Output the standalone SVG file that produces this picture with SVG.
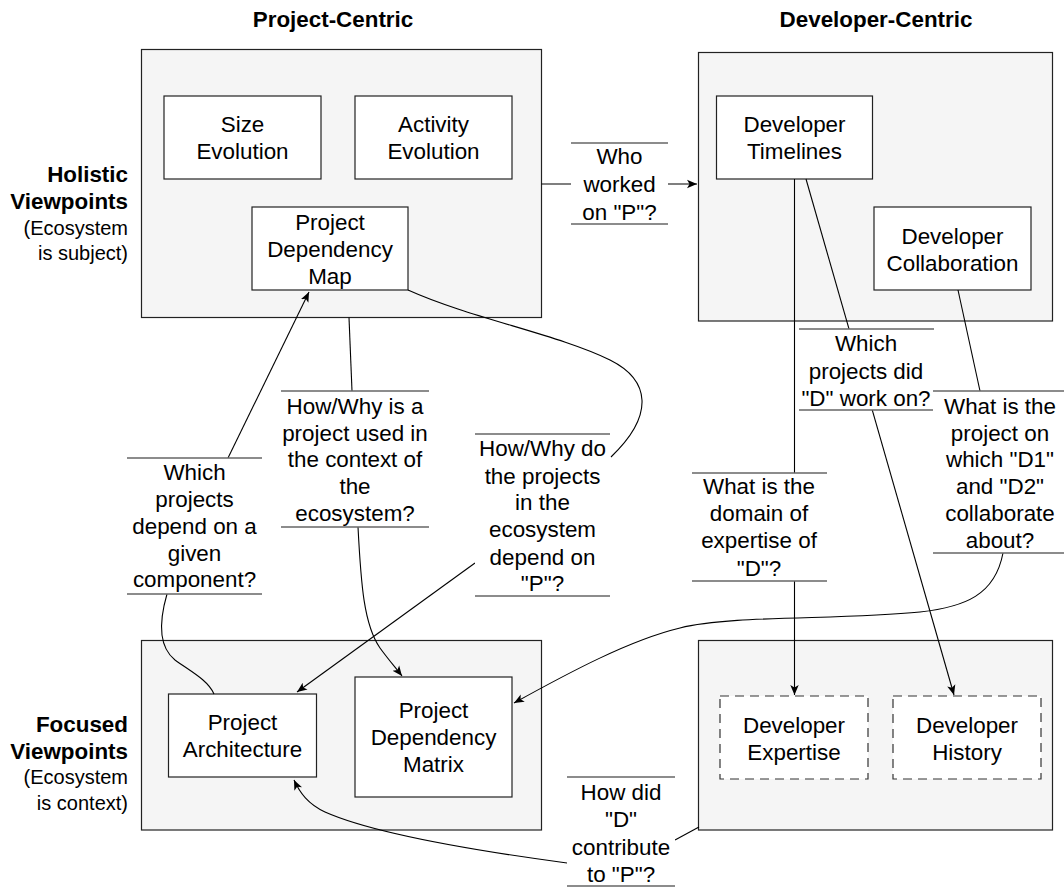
<svg xmlns="http://www.w3.org/2000/svg" width="1064" height="887" viewBox="0 0 1064 887">
<defs>
<marker id="arr" viewBox="0 0 10 10" refX="10" refY="5" markerWidth="10" markerHeight="10" markerUnits="userSpaceOnUse" orient="auto">
<path d="M0,0.8 L10,5 L0,9.2 L2.5,5 Z" fill="#000"/>
</marker>
<style>
text{font-family:"Liberation Sans",Arial,sans-serif;font-size:22.4px;fill:#000;text-anchor:middle}
.b{font-weight:bold}
.r{text-anchor:end}
.s{font-size:20px}
.cont{fill:#f5f5f5;stroke:#222;stroke-width:1.2}
.node{fill:#fff;stroke:#222;stroke-width:1.2}
.dash{fill:#fff;stroke:#333;stroke-width:1.2;stroke-dasharray:9 6}
.edge{fill:none;stroke:#000;stroke-width:1.1}
.lbg{fill:#fff;stroke:none}
.ll{stroke:#666;stroke-width:1.4}
</style>
</defs>
<rect width="1064" height="887" fill="#fff"/>

<g id="headers">
<text class="b" x="333" y="27">Project-Centric</text>
<text class="b" x="876" y="27">Developer-Centric</text>
<text class="b r" x="128" y="182">Holistic</text>
<text class="b r" x="128" y="209">Viewpoints</text>
<text class="r s" x="128" y="235">(Ecosystem</text>
<text class="r s" x="128" y="260">is subject)</text>
<text class="b r" x="128" y="732">Focused</text>
<text class="b r" x="128" y="759">Viewpoints</text>
<text class="r s" x="128" y="784">(Ecosystem</text>
<text class="r s" x="128" y="810">is context)</text>
</g>

<g id="containers">
<rect id="projHolistic" class="cont" x="141.5" y="49.5" width="400" height="268"/>
<rect id="devHolistic" class="cont" x="698.5" y="52.5" width="354" height="268.5"/>
<rect id="projFocused" class="cont" x="141.5" y="640.5" width="400" height="189.5"/>
<rect id="devFocused" class="cont" x="698.5" y="640.5" width="354" height="189.5"/>
</g>

<g id="sizeEvolution">
<rect class="node" x="164" y="96" width="157" height="83"/>
<text x="242.5" y="132">Size</text>
<text x="242.5" y="159">Evolution</text>
</g>
<g id="activityEvolution">
<rect class="node" x="355" y="96" width="157" height="83"/>
<text x="433.5" y="132">Activity</text>
<text x="433.5" y="159">Evolution</text>
</g>
<g id="projectDependencyMap">
<rect class="node" x="252" y="207" width="156" height="83"/>
<text x="330" y="230">Project</text>
<text x="330" y="257">Dependency</text>
<text x="330" y="284">Map</text>
</g>
<g id="developerTimelines">
<rect class="node" x="716.5" y="96" width="156" height="83"/>
<text x="794.5" y="132">Developer</text>
<text x="794.5" y="159">Timelines</text>
</g>
<g id="developerCollaboration">
<rect class="node" x="874" y="207" width="157" height="83"/>
<text x="952.5" y="244">Developer</text>
<text x="952.5" y="271">Collaboration</text>
</g>
<g id="projectArchitecture">
<rect class="node" x="168.5" y="694" width="148" height="83"/>
<text x="242.5" y="730">Project</text>
<text x="242.5" y="757">Architecture</text>
</g>
<g id="projectDependencyMatrix">
<rect class="node" x="355" y="677" width="157" height="120"/>
<text x="433.5" y="718">Project</text>
<text x="433.5" y="745">Dependency</text>
<text x="433.5" y="772">Matrix</text>
</g>
<g id="developerExpertise">
<rect class="dash" x="720" y="696" width="148" height="83"/>
<text x="794" y="733">Developer</text>
<text x="794" y="760">Expertise</text>
</g>
<g id="developerHistory">
<rect class="dash" x="893" y="696" width="148" height="83"/>
<text x="967" y="733">Developer</text>
<text x="967" y="760">History</text>
</g>

<g id="connectors">
<path class="edge" d="M541.5,184 L697,184" marker-end="url(#arr)"/>
<path class="edge" d="M228,458 L309,292" marker-end="url(#arr)"/>
<path class="edge" d="M167,594 C158,625 160,648 175,660 C190,671 208,680 214,694"/>
<path class="edge" d="M349,317.5 L352,391"/>
<path class="edge" d="M358,527 C361,585 364,625 380,648 C388,659 395,667 402,676" marker-end="url(#arr)"/>
<path class="edge" d="M408,290 C470,318 560,335 610,360 C650,380 655,415 611,457"/>
<path class="edge" d="M475,563 L297,692" marker-end="url(#arr)"/>
<path class="edge" d="M794.5,179 L794.5,695" marker-end="url(#arr)"/>
<path class="edge" d="M806,179 L954,695" marker-end="url(#arr)"/>
<path class="edge" d="M958,290 L980,391"/>
<path class="edge" d="M1003,553 C995,595 965,607 920,612 C840,620 730,615 680,628 C630,640 570,672 514,703" marker-end="url(#arr)"/>
<path class="edge" d="M699,827 L675,840"/>
<path class="edge" d="M567,863 C470,850 370,832 325,812 C308,804 300,793 294,780" marker-end="url(#arr)"/>
</g>

<g id="lblWhoWorked">
<rect class="lbg" x="571" y="143" width="97" height="81"/>
<line class="ll" x1="571" y1="143" x2="668" y2="143"/>
<line class="ll" x1="571" y1="224" x2="668" y2="224"/>
<text x="619.5" y="164">Who</text>
<text x="619.5" y="192">worked</text>
<text x="619.5" y="220">on "P"?</text>
</g>
<g id="lblHowWhyUsed">
<rect class="lbg" x="281" y="391" width="148" height="136"/>
<line class="ll" x1="281" y1="391" x2="429" y2="391"/>
<line class="ll" x1="281" y1="527" x2="429" y2="527"/>
<text x="355" y="414">How/Why is a</text>
<text x="355" y="441">project used in</text>
<text x="355" y="467">the context of</text>
<text x="355" y="494">the</text>
<text x="355" y="521">ecosystem?</text>
</g>
<g id="lblWhichDepend">
<rect class="lbg" x="127" y="458" width="135" height="136"/>
<line class="ll" x1="127" y1="458" x2="262" y2="458"/>
<line class="ll" x1="127" y1="594" x2="262" y2="594"/>
<text x="194.5" y="480">Which</text>
<text x="194.5" y="507">projects</text>
<text x="194.5" y="534">depend on a</text>
<text x="194.5" y="561">given</text>
<text x="194.5" y="587">component?</text>
</g>
<g id="lblHowWhyDepend">
<rect class="lbg" x="475" y="434" width="135" height="162"/>
<line class="ll" x1="475" y1="434" x2="610" y2="434"/>
<line class="ll" x1="475" y1="596" x2="610" y2="596"/>
<text x="542.5" y="456">How/Why do</text>
<text x="542.5" y="484">the projects</text>
<text x="542.5" y="510">in the</text>
<text x="542.5" y="537">ecosystem</text>
<text x="542.5" y="565">depend on</text>
<text x="542.5" y="591">"P"?</text>
</g>
<g id="lblWhichProjectsD">
<rect class="lbg" x="799" y="329" width="135" height="81"/>
<line class="ll" x1="799" y1="329" x2="934" y2="329"/>
<line class="ll" x1="799" y1="410" x2="934" y2="410"/>
<text x="866" y="351">Which</text>
<text x="866" y="379">projects did</text>
<text x="866" y="406">"D" work on?</text>
</g>
<g id="lblProjectOnWhich">
<rect class="lbg" x="933" y="391" width="135" height="162"/>
<line class="ll" x1="933" y1="391" x2="1068" y2="391"/>
<line class="ll" x1="933" y1="553" x2="1068" y2="553"/>
<text x="1000" y="414">What is the</text>
<text x="1000" y="441">project on</text>
<text x="1000" y="467">which "D1"</text>
<text x="1000" y="494">and "D2"</text>
<text x="1000" y="521">collaborate</text>
<text x="1000" y="548">about?</text>
</g>
<g id="lblDomain">
<rect class="lbg" x="692" y="473" width="135" height="108"/>
<line class="ll" x1="692" y1="473" x2="827" y2="473"/>
<line class="ll" x1="692" y1="581" x2="827" y2="581"/>
<text x="759" y="494">What is the</text>
<text x="759" y="521">domain of</text>
<text x="759" y="548">expertise of</text>
<text x="759" y="576">"D"?</text>
</g>
<g id="lblHowDid">
<rect class="lbg" x="567" y="777" width="108" height="109"/>
<line class="ll" x1="567" y1="777" x2="675" y2="777"/>
<line class="ll" x1="567" y1="886" x2="675" y2="886"/>
<text x="621" y="800">How did</text>
<text x="621" y="827">"D"</text>
<text x="621" y="855">contribute</text>
<text x="621" y="882">to "P"?</text>
</g>
</svg>
